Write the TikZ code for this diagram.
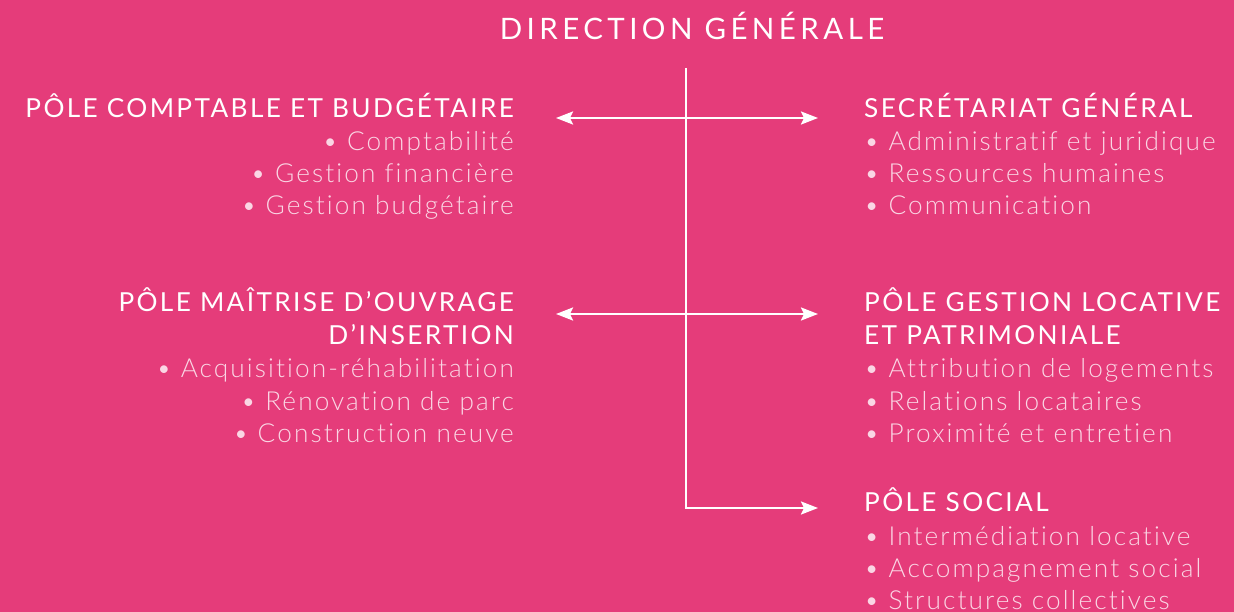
\documentclass[tikz,border=0pt]{standalone}
\usepackage{fontspec}
\usetikzlibrary{arrows.meta}
\setmainfont{Lato}
\newfontfamily\titlefont{Lato}[LetterSpace=15,Ligatures=NoCommon]
\newfontfamily\headfont{Lato}[LetterSpace=9,Ligatures=NoCommon]
\newfontfamily\itemfont{Lato Light}[LetterSpace=8,Ligatures=NoCommon]
\definecolor{bgpink}{RGB}{229,60,122}
\definecolor{itempink}{RGB}{250,214,228}
\begin{document}
\begin{tikzpicture}[x=1pt,y=-1pt,
  title/.style={text=white,font=\titlefont\fontsize{29.5}{34}\selectfont,inner sep=0pt},
  head/.style={text=white,font=\headfont\fontsize{26.2}{30}\selectfont,inner sep=0pt},
  item/.style={text=itempink,font=\itemfont\fontsize{26.2}{30}\selectfont,inner sep=0pt},
  link/.style={white,line width=2.4pt,-{Stealth[length=17pt,width=13pt,inset=3pt]}},
  spine/.style={white,line width=2.4pt}]
\fill[bgpink] (0,0) rectangle (1234,612);
\useasboundingbox (0,0) rectangle (1234,612);

% title
\node[title,anchor=base] (dg) at (692,40) {DIRECTION GÉNÉRALE};

% spine and branch points
\coordinate (top) at (686,68);
\coordinate (j1) at (686,118);
\coordinate (j2) at (686,314);
\coordinate (bot) at (686,508);
\coordinate (l1) at (556,118);
\coordinate (r1) at (818,118);
\coordinate (l2) at (556,314);
\coordinate (r2) at (818,314);
\coordinate (r3) at (818,508);
\draw[spine] (top) -- (bot);
\draw[link] (j1) -- (l1);
\draw[link] (j1) -- (r1);
\draw[link] (j2) -- (l2);
\draw[link] (j2) -- (r2);
\draw[link] ([xshift=-1.2pt]bot) -- (r3);

% left column
\node[head,anchor=base east] (a0) at (514,118) {PÔLE COMPTABLE ET BUDGÉTAIRE};
\node[item,anchor=base east] (a1) at (514,151) {• Comptabilité};
\node[item,anchor=base east] (a2) at (514,183) {• Gestion financière};
\node[item,anchor=base east] (a3) at (514,215) {• Gestion budgétaire};

\node[head,anchor=base east] (b0) at (514,312) {PÔLE MAÎTRISE D’OUVRAGE};
\node[head,anchor=base east] (b1) at (514,344) {D’INSERTION};
\node[item,anchor=base east] (b2) at (514,377) {• Acquisition-réhabilitation};
\node[item,anchor=base east] (b3) at (514,410) {• Rénovation de parc};
\node[item,anchor=base east] (b4) at (514,442) {• Construction neuve};

% right column
\node[head,anchor=base west] (c0) at (864,118) {SECRÉTARIAT GÉNÉRAL};
\node[item,anchor=base west] (c1) at (864,151) {• Administratif et juridique};
\node[item,anchor=base west] (c2) at (864,183) {• Ressources humaines};
\node[item,anchor=base west] (c3) at (864,215) {• Communication};

\node[head,anchor=base west] (d0) at (864,312) {PÔLE GESTION LOCATIVE};
\node[head,anchor=base west] (d1) at (864,344) {ET PATRIMONIALE};
\node[item,anchor=base west] (d2) at (864,377) {• Attribution de logements};
\node[item,anchor=base west] (d3) at (864,410) {• Relations locataires};
\node[item,anchor=base west] (d4) at (864,442) {• Proximité et entretien};

\node[head,anchor=base west] (e0) at (864,511) {PÔLE SOCIAL};
\node[item,anchor=base west] (e1) at (864,545) {• Intermédiation locative};
\node[item,anchor=base west] (e2) at (864,577) {• Accompagnement social};
\node[item,anchor=base west] (e3) at (864,609) {• Structures collectives};
\end{tikzpicture}
\end{document}
